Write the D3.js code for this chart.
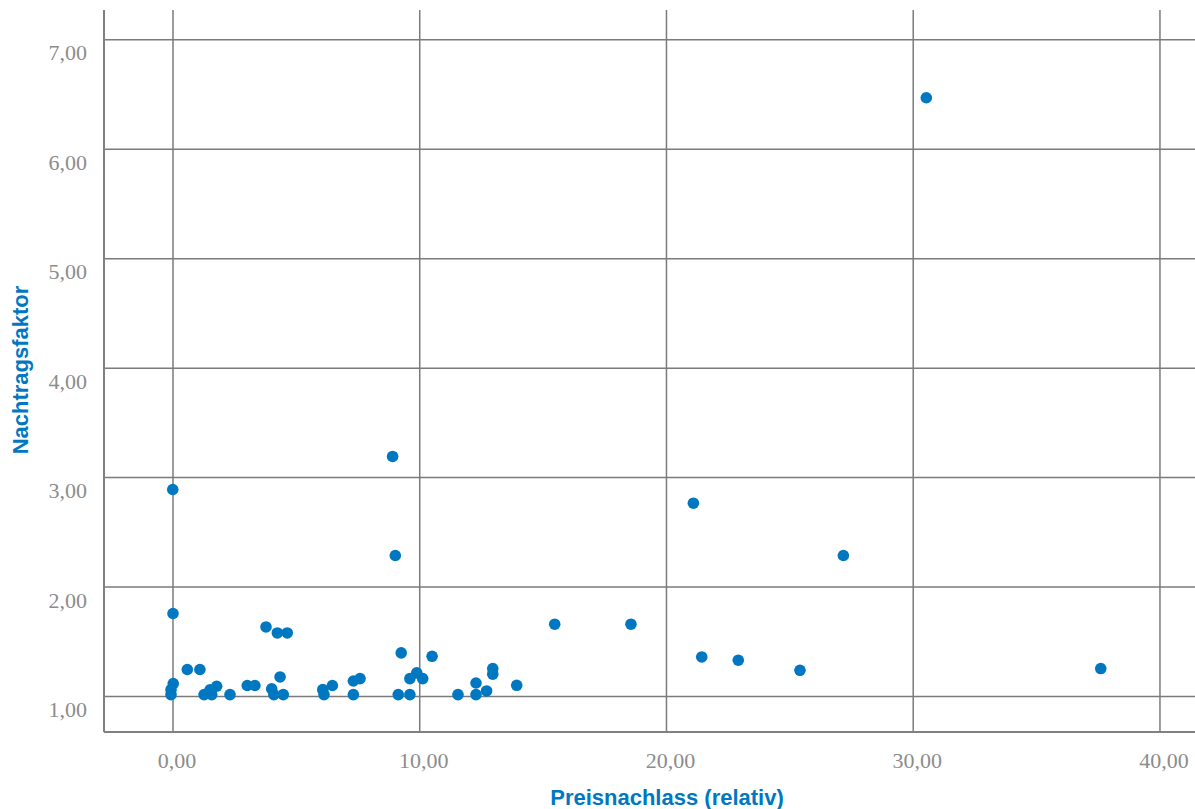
<!DOCTYPE html>
<html>
<head>
<meta charset="utf-8">
<script src="https://cdn.jsdelivr.net/npm/d3@7"></script>
<style>
  html, body { margin: 0; padding: 0; background: #fff; }
  svg { display: block; }
</style>
</head>
<body>
<svg id="chart" width="1195" height="809"></svg>
<script>
// Preisnachlass (relativ) values
const preisnachlass = [
  -0.01, 0.00, 0.01, -0.08, -0.08, 0.58, 1.09, 1.26, 1.50, 1.57,
  1.77, 2.31, 3.01, 3.32, 3.77, 4.23, 4.63, 4.34, 4.00, 4.09,
  4.47, 6.07, 6.12, 6.46, 7.31, 7.58, 7.31, 8.90, 9.01, 9.25,
  9.60, 9.88, 10.12, 9.13, 9.60, 10.50, 11.55, 12.28, 12.28, 12.71,
  12.96, 12.96, 13.93, 15.47, 18.56, 21.09, 21.43, 22.91, 25.41, 27.17,
  30.53, 37.60
];
// Nachtragsfaktor values
const nachtragsfaktor = [
  2.891, 1.758, 1.118, 1.062, 1.017, 1.246, 1.246, 1.017, 1.060, 1.017,
  1.093, 1.017, 1.100, 1.100, 1.635, 1.580, 1.580, 1.178, 1.070, 1.017,
  1.017, 1.062, 1.017, 1.100, 1.141, 1.163, 1.017, 3.193, 2.288, 1.398,
  1.163, 1.215, 1.163, 1.017, 1.017, 1.367, 1.017, 1.123, 1.017, 1.050,
  1.255, 1.203, 1.102, 1.660, 1.660, 2.766, 1.361, 1.331, 1.239, 2.288,
  6.471, 1.255
];
const xTicks = [0, 10, 20, 30, 40];
const yTicks = [1, 2, 3, 4, 5, 6, 7];
const xTitle = "Preisnachlass (relativ)";
const yTitle = "Nachtragsfaktor";

(function () {
const points = preisnachlass.map((x, i) => ({ x, y: nachtragsfaktor[i] }));

const svg = d3.select("#chart");
const pLeft = 104, pRight = 1195, pTop = 10, pBottom = 732;

const x = d3.scaleLinear().domain([-2.796, 41.42]).range([pLeft, pRight]);
const y = d3.scaleLinear().domain([0.675, 7.273]).range([pBottom, pTop]);

const fmt = v => d3.format(".2f")(v).replace(".", ",");
const gridColor = "#7b7b7b";
const labelColor = "#8c8c8c";
const blue = "#0078c1";

// Horizontal gridlines
svg.append("g")
  .selectAll("line")
  .data(yTicks)
  .join("line")
  .attr("x1", pLeft).attr("x2", pRight)
  .attr("y1", d => y(d)).attr("y2", d => y(d))
  .attr("stroke", gridColor).attr("stroke-width", 1.5);

// Vertical gridlines
svg.append("g")
  .selectAll("line")
  .data(xTicks)
  .join("line")
  .attr("x1", d => x(d)).attr("x2", d => x(d))
  .attr("y1", pTop).attr("y2", pBottom)
  .attr("stroke", gridColor).attr("stroke-width", 1.5);

// Axis lines
svg.append("line")
  .attr("x1", pLeft).attr("x2", pLeft).attr("y1", pTop).attr("y2", pBottom)
  .attr("stroke", "#808080").attr("stroke-width", 2);
svg.append("line")
  .attr("x1", pLeft).attr("x2", pRight).attr("y1", pBottom).attr("y2", pBottom)
  .attr("stroke", "#808080").attr("stroke-width", 2);

// Y tick labels
svg.append("g")
  .selectAll("text")
  .data(yTicks)
  .join("text")
  .attr("x", 87)
  .attr("y", d => y(d) + 13)
  .attr("text-anchor", "end")
  .attr("dominant-baseline", "central")
  .attr("font-family", "'Liberation Serif', 'DejaVu Serif', serif")
  .attr("font-size", 22)
  .attr("fill", labelColor)
  .text(fmt);

// X tick labels
svg.append("g")
  .selectAll("text")
  .data(xTicks)
  .join("text")
  .attr("x", d => x(d) + 4)
  .attr("y", 760)
  .attr("text-anchor", "middle")
  .attr("dominant-baseline", "central")
  .attr("font-family", "'Liberation Serif', 'DejaVu Serif', serif")
  .attr("font-size", 22)
  .attr("fill", labelColor)
  .text(fmt);

// Points
svg.append("g")
  .selectAll("circle")
  .data(points)
  .join("circle")
  .attr("cx", d => x(d.x))
  .attr("cy", d => y(d.y))
  .attr("r", 5.8)
  .attr("fill", blue);

// Axis titles
svg.append("text")
  .attr("x", 667).attr("y", 797)
  .attr("text-anchor", "middle")
  .attr("dominant-baseline", "central")
  .attr("font-family", "'Liberation Sans', Arial, sans-serif")
  .attr("font-weight", "bold")
  .attr("font-size", 22)
  .attr("fill", blue)
  .text(xTitle);

svg.append("text")
  .attr("transform", "translate(20,370) rotate(-90)")
  .attr("text-anchor", "middle")
  .attr("dominant-baseline", "central")
  .attr("font-family", "'Liberation Sans', Arial, sans-serif")
  .attr("font-weight", "bold")
  .attr("font-size", 22)
  .attr("fill", blue)
  .text(yTitle);
})();
</script>
</body>
</html>
